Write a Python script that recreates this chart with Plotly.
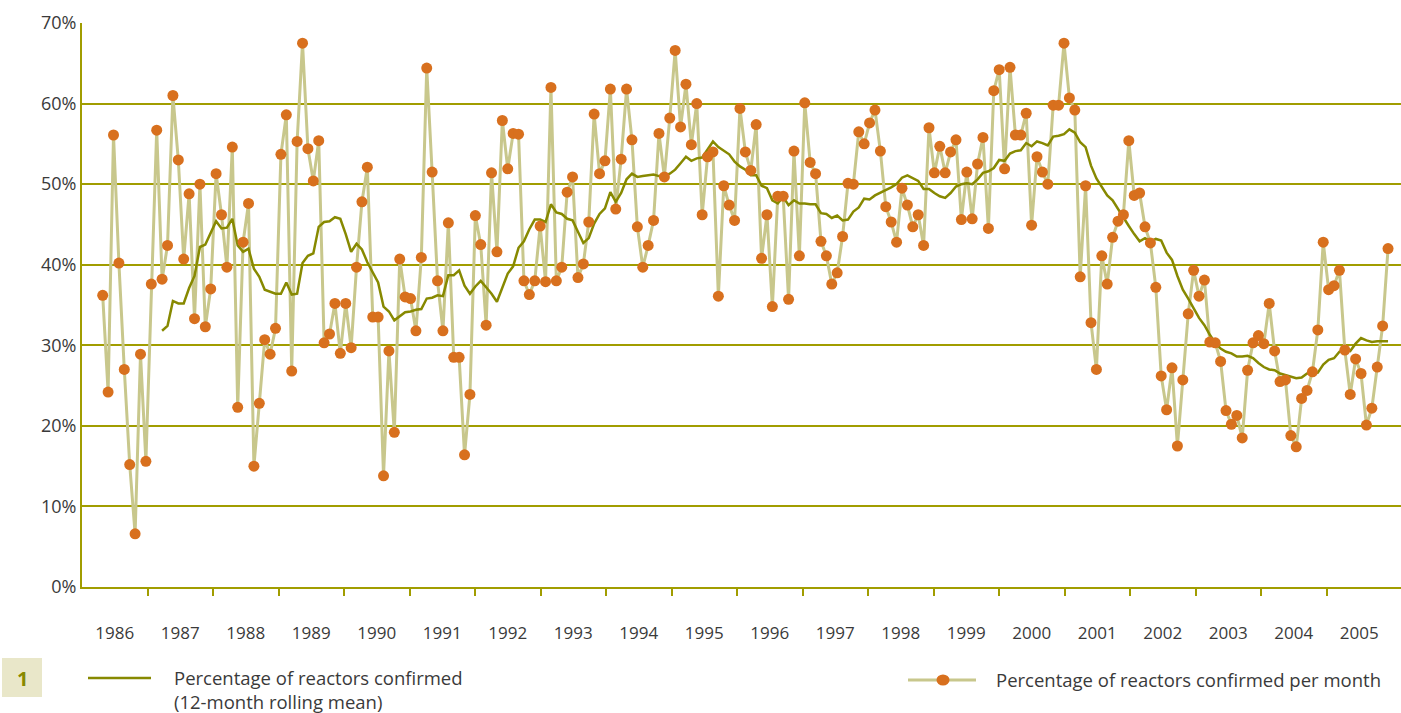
import plotly.graph_objects as go

# share of reactors confirmed each month (%)
monthly_pct = [
    36.2, 24.2, 56.1, 40.2, 27.0, 15.2, 6.6, 28.9, 15.6, 37.6, 56.7, 38.2, 42.4, 61.0, 53.0, 40.7, 48.8, 33.3, 50.0, 32.3,
    37.0, 51.3, 46.2, 39.7, 54.6, 22.3, 42.8, 47.6, 15.0, 22.8, 30.7, 28.9, 32.1, 53.7, 58.6, 26.8, 55.3, 67.5, 54.4, 50.4, 55.4,
    30.3, 31.4, 35.2, 29.0, 35.2, 29.7, 39.7, 47.8, 52.1, 33.5, 33.5, 13.8, 29.3, 19.2, 40.7, 36.0, 35.8, 31.8, 40.9, 64.4,
    51.5, 38.0, 31.8, 45.2, 28.5, 28.5, 16.4, 23.9, 46.1, 42.5, 32.5, 51.4, 41.6, 57.9, 51.9, 56.3, 56.2, 38.0, 36.3, 38.0, 44.8,
    37.9, 62.0, 38.0, 39.7, 49.0, 50.9, 38.4, 40.1, 45.3, 58.7, 51.3, 52.9, 61.8, 46.9, 53.1, 61.8, 55.5, 44.7, 39.7, 42.4,
    45.5, 56.3, 50.9, 58.2, 66.6, 57.1, 62.4, 54.9, 60.0, 46.2, 53.4, 54.0, 36.1, 49.8, 47.4, 45.5, 59.4, 54.0, 51.7, 57.4, 40.8,
    46.2, 34.8, 48.5, 48.5, 35.7, 54.1, 41.1, 60.1, 52.7, 51.3, 42.9, 41.1, 37.6, 39.0, 43.5, 50.1, 50.0, 56.5, 55.0,
    57.6, 59.2, 54.1, 47.2, 45.3, 42.8, 49.5, 47.4, 44.7, 46.2, 42.4, 57.0, 51.4, 54.7, 51.4, 54.0, 55.5, 45.6, 51.5, 45.7, 52.5,
    55.8, 44.5, 61.6, 64.2, 51.9, 64.5, 56.1, 56.1, 58.8, 44.9, 53.4, 51.5, 50.0, 59.8, 59.8, 67.5, 60.7, 59.2, 38.5, 49.8,
    32.8, 27.0, 41.1, 37.6, 43.4, 45.4, 46.2, 55.4, 48.6, 48.9, 44.7, 42.7, 37.2, 26.2, 22.0, 27.2, 17.5, 25.7, 33.9, 39.3,
    36.1, 38.1, 30.4, 30.3, 28.0, 21.9, 20.2, 21.3, 18.5, 26.9, 30.3, 31.2, 30.2, 35.2, 29.3, 25.5, 25.7, 18.8, 17.4, 23.4, 24.4,
    26.7, 31.9, 42.8, 36.9, 37.4, 39.3, 29.4, 23.9, 28.3, 26.5, 20.1, 22.2, 27.3, 32.4, 42.0,
]

# 12-month rolling mean as drawn (%), starts at the 12th monthly value
rolling_pct = [
    31.8, 32.4, 35.5, 35.2, 35.2, 37.1, 38.6, 42.2, 42.5,
    44.0, 45.4, 44.5, 44.6, 45.7, 42.4, 41.6, 42.0, 39.5, 38.5, 36.9, 36.6, 36.4, 36.4, 37.8, 36.3, 36.4, 40.2, 41.1, 41.4, 44.7,
    45.3, 45.4, 45.9, 45.7, 43.8, 41.6, 42.6, 41.9, 40.3, 39.0, 37.8, 34.8, 34.2, 33.1, 33.6, 34.1, 34.2, 34.4, 34.5, 35.8,
    35.9, 36.2, 36.1, 38.7, 38.7, 39.3, 37.4, 36.4, 37.3, 38.0, 37.2, 36.4, 35.4, 37.2, 38.9, 39.8, 42.1, 42.9, 44.4, 45.6, 45.6,
    45.3, 47.5, 46.5, 46.3, 45.7, 45.5, 44.1, 42.7, 43.3, 45.1, 46.3, 47.0, 49.0, 47.8, 48.9, 50.6, 51.3, 50.9, 51.0, 51.1,
    51.2, 51.0, 51.0, 51.3, 51.8, 52.6, 53.4, 52.9, 53.2, 53.3, 54.3, 55.3, 54.6, 54.1, 53.7, 52.8, 52.2, 51.8, 51.1, 51.1, 49.8,
    49.5, 48.0, 47.6, 48.4, 47.4, 48.0, 47.6, 47.6, 47.5, 47.5, 46.4, 46.3, 45.8, 46.1, 45.5, 45.6, 46.6, 47.1, 48.2,
    48.1, 48.6, 48.9, 49.2, 49.6, 50.0, 50.8, 51.1, 50.8, 50.4, 49.4, 49.4, 48.9, 48.5, 48.3, 48.9, 49.7, 50.0, 50.1, 50.0, 50.6,
    51.4, 51.6, 52.0, 53.0, 52.9, 53.8, 54.1, 54.2, 55.1, 54.7, 55.3, 55.1, 54.8, 55.9, 56.0, 56.2, 56.8, 56.4, 55.2, 54.6,
    52.3, 50.7, 49.6, 48.6, 48.0, 46.9, 45.8, 44.8, 43.8, 42.9, 43.3, 42.9, 43.2, 43.0, 41.5, 40.6, 38.6, 36.9, 35.8, 34.5,
    33.4, 32.5, 31.3, 30.3, 29.6, 29.2, 29.0, 28.6, 28.6, 28.7, 28.4, 27.8, 27.3, 27.0, 26.9, 26.5, 26.3, 26.1, 25.9, 26.0, 26.5,
    26.5, 26.6, 27.6, 28.2, 28.4, 29.2, 29.5, 29.3, 30.2, 30.9, 30.6, 30.4, 30.5, 30.5, 30.5,
]

years = list(range(1986, 2006))
pct_ticks = list(range(0, 80, 10))

# the monthly points sit evenly spaced on the year axis of the original
first_pos = 1986.316
step = 0.08245
x_month = [first_pos + i * step for i in range(len(monthly_pct))]
x_roll = x_month[len(monthly_pct) - len(rolling_pct):]

GRID = "#a19d00"
ROLL = "#878900"
MONTH_LINE = "#c8c78c"
MARKER = "#d8701e"
TEXT = "#3a3a3a"
FONT = "Open Sans"

W, H = 1401, 713
L, R, T, B = 82, 0, 23, 126


def px(x):
    return (x - L) / (W - L - R)


def py(y):
    return (H - B - y) / (H - T - B)


fig = go.Figure()

fig.add_trace(go.Scatter(x=x_month, y=monthly_pct, mode="lines",
                         line=dict(color=MONTH_LINE, width=3), showlegend=False))
fig.add_trace(go.Scatter(x=x_roll, y=rolling_pct, mode="lines",
                         line=dict(color=ROLL, width=2.5), showlegend=False))
fig.add_trace(go.Scatter(x=x_month, y=monthly_pct, mode="markers",
                         marker=dict(color=MARKER, size=11, line=dict(width=0)),
                         showlegend=False))

# hand-made key below the chart
shapes = [
    dict(type="rect", xref="paper", yref="paper", x0=px(2), x1=px(42), y0=py(697), y1=py(658),
         fillcolor="#e9e7c9", line=dict(width=0)),
    dict(type="line", xref="paper", yref="paper", x0=px(88), x1=px(151), y0=py(678), y1=py(678),
         line=dict(color=ROLL, width=2.5)),
    dict(type="line", xref="paper", yref="paper", x0=px(908), x1=px(976), y0=py(680), y1=py(680),
         line=dict(color=MONTH_LINE, width=3)),
    dict(type="circle", xref="paper", yref="paper", xsizemode="pixel", ysizemode="pixel",
         xanchor=px(943), yanchor=py(680), x0=-6.5, x1=6.5, y0=-5.5, y1=5.5,
         fillcolor=MARKER, line=dict(width=0)),
]
annotations = [
    dict(text="<b>1</b>", x=px(22), y=py(678), xref="paper", yref="paper", showarrow=False,
         xanchor="center", yanchor="middle", font=dict(family=FONT, size=20, color=ROLL)),
    dict(text="Percentage of reactors confirmed<br>(12-month rolling mean)", x=px(172), y=py(663),
         xref="paper", yref="paper", showarrow=False, xanchor="left", yanchor="top", align="left",
         font=dict(family=FONT, size=18.5, color=TEXT)),
    dict(text="Percentage of reactors confirmed per month", x=px(994), y=py(680),
         xref="paper", yref="paper", showarrow=False, xanchor="left", yanchor="middle",
         font=dict(family=FONT, size=18.5, color=TEXT)),
]

fig.update_layout(
    width=W, height=H,
    margin=dict(l=L, r=R, t=T, b=B),
    paper_bgcolor="white", plot_bgcolor="white",
    font=dict(family=FONT, size=17, color=TEXT),
    shapes=shapes, annotations=annotations,
    xaxis=dict(
        range=[1986, 2006.137],
        tickvals=[y + 0.5 for y in years], ticktext=[str(y) for y in years],
        ticks="", showgrid=False, zeroline=False,
        showline=True, linecolor=GRID, linewidth=2,
        minor=dict(tickvals=years[1:], ticks="outside", ticklen=7, tickwidth=2,
                   tickcolor=GRID, showgrid=False),
        ticklabelstandoff=30,
        tickfont=dict(family=FONT, size=17, color=TEXT),
    ),
    yaxis=dict(
        range=[0, 70], tickvals=pct_ticks, ticktext=[f"{v}%" for v in pct_ticks],
        showgrid=True, gridcolor=GRID, gridwidth=2, zeroline=False,
        showline=True, linecolor=GRID, linewidth=2, ticks="",
        ticklabelstandoff=0,
        tickfont=dict(family=FONT, size=18, color=TEXT),
    ),
)

# the page's default body margin would push the chart off the window
fig.write_html("out.html", config={"displayModeBar": False},
               post_script="document.body.style.margin='0';")
